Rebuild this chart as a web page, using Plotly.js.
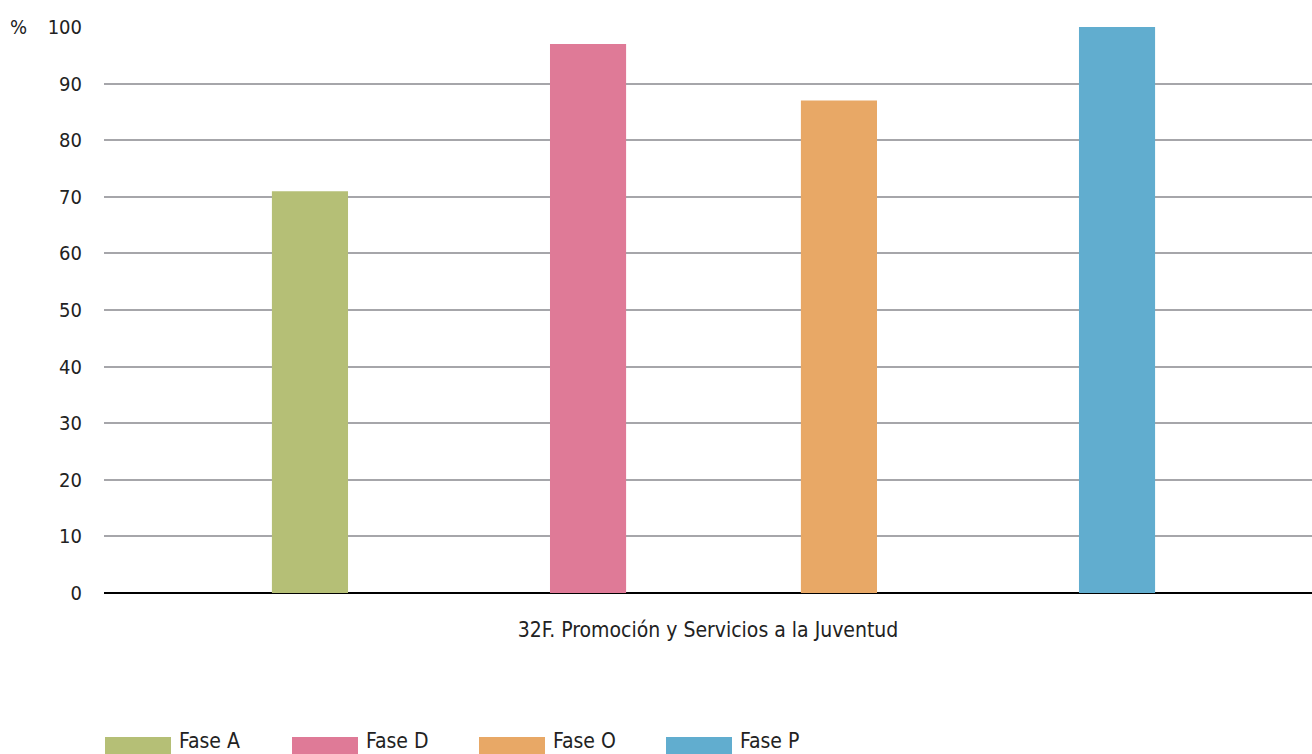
<!DOCTYPE html>
<html>
<head>
<meta charset="utf-8">
<script src="https://cdn.plot.ly/plotly-3.0.1.min.js"></script>
<style>html,body{margin:0;padding:0;background:#fff;}#chart{width:1312px;height:754px;}</style>
</head>
<body>
<div id="chart"></div>
<script>
const category = ["32F. Promoción y Servicios a la Juventud"];
const seriesNames = ["Fase A", "Fase D", "Fase O", "Fase P"];
const seriesValues = [71, 97, 87, 100];
const seriesColors = ["#b5bf76", "#df7a97", "#e8a866", "#61adcf"];
const yTicks = [0, 10, 20, 30, 40, 50, 60, 70, 80, 90, 100];

// layout/style (bar placement within the category)
const barWidth = 0.063;
const barCenters = [-0.3295, -0.0993, 0.1084, 0.3386];

const traces = seriesNames.map((name, i) => ({
  type: 'bar',
  name: name,
  x: category,
  y: [seriesValues[i]],
  width: barWidth,
  offset: barCenters[i] - barWidth / 2,
  marker: {color: seriesColors[i]},
  hoverinfo: 'name+y'
}));

const FONT = '"Liberation Sans Narrow", "DejaVu Sans Condensed", Roboto, sans-serif';
const plotL = 104, plotR = 1312, plotT = 27, plotB = 593;
const pw = plotR - plotL, ph = plotB - plotT;
const px2x = p => (p - plotL) / pw;
const py2y = p => (plotB - p) / ph;

const shapes = [];
const annotations = [{
  text: '%', xref: 'paper', yref: 'paper', x: px2x(18), y: py2y(27),
  xanchor: 'center', yanchor: 'middle', showarrow: false,
  font: {family: FONT, size: 20, color: '#222'}
}];
seriesNames.forEach((name, i) => {
  const left = 105 + i * 187;
  shapes.push({
    type: 'rect', xref: 'paper', yref: 'paper',
    x0: px2x(left), x1: px2x(left + 66), y0: py2y(754), y1: py2y(737),
    fillcolor: seriesColors[i], line: {width: 0}
  });
  annotations.push({
    text: name, xref: 'paper', yref: 'paper', x: px2x(left + 72), y: py2y(741),
    xanchor: 'left', yanchor: 'middle', showarrow: false,
    font: {family: FONT, size: 21, color: '#222'}
  });
});

const layout = {
  width: 1312, height: 754,
  margin: {l: plotL, r: 1312 - plotR, t: plotT, b: 754 - plotB, pad: 0},
  paper_bgcolor: '#fff', plot_bgcolor: '#fff',
  font: {family: FONT, size: 20, color: '#222'},
  barmode: 'overlay',
  showlegend: false,
  xaxis: {
    type: 'category', range: [-0.5, 0.5], showgrid: false, zeroline: false,
    showline: false, ticks: '', ticklabelstandoff: 22,
    tickfont: {family: FONT, size: 21, color: '#222'}, fixedrange: true
  },
  yaxis: {
    range: [0, 100], tickvals: yTicks, ticktext: yTicks.map(String),
    showgrid: true, gridcolor: '#a6a6aa', gridwidth: 2,
    zeroline: true, zerolinecolor: '#000', zerolinewidth: 2,
    showline: false, ticks: '', ticklabelstandoff: 21,
    tickfont: {family: FONT, size: 20, color: '#222'}, fixedrange: true
  },
  shapes: shapes,
  annotations: annotations
};

Plotly.newPlot('chart', traces, layout, {displayModeBar: false, staticPlot: true});
</script>
</body>
</html>
